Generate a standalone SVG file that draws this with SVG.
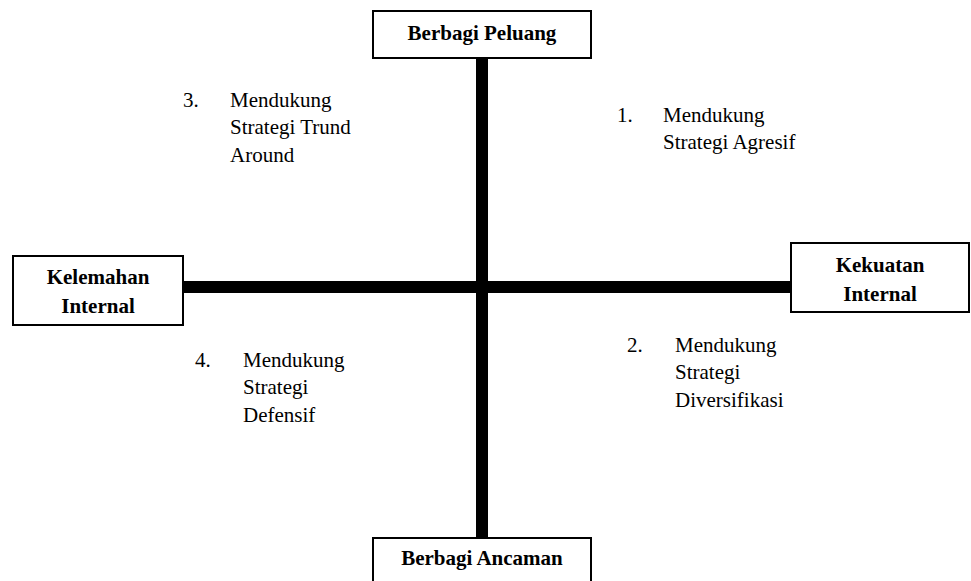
<svg xmlns="http://www.w3.org/2000/svg" width="971" height="581" viewBox="0 0 971 581">
<style>
.box{fill:#fff;stroke:#000;stroke-width:2}
.bar{fill:#000}
.lb{font-weight:bold;font-size:21px;text-anchor:middle;fill:#000}
.q{font-size:21px;fill:#000}
</style>
<rect width="971" height="581" fill="#fff"/>
<g id="connectors">
<rect class="bar" x="476" y="58" width="12" height="480"/>
<rect class="bar" x="183" y="281" width="608" height="12"/>
</g>
<g font-family="Liberation Serif, Times New Roman, serif">
<g id="top">
<rect class="box" x="373" y="11" width="218" height="47"/>
<text class="lb" x="482" y="40">Berbagi Peluang</text>
</g>
<g id="left">
<rect class="box" x="13" y="256" width="170" height="69"/>
<text class="lb" x="98" y="284">Kelemahan</text>
<text class="lb" x="98" y="313">Internal</text>
</g>
<g id="right">
<rect class="box" x="791" y="243" width="178" height="69"/>
<text class="lb" x="880" y="272">Kekuatan</text>
<text class="lb" x="880" y="301">Internal</text>
</g>
<g id="bottom">
<rect class="box" x="373" y="538" width="218" height="50"/>
<text class="lb" x="482" y="565">Berbagi Ancaman</text>
</g>
<g id="q3">
<text class="q" x="183" y="107">3.</text>
<text class="q" x="230" y="107">Mendukung</text>
<text class="q" x="230" y="134">Strategi Trund</text>
<text class="q" x="230" y="162">Around</text>
</g>
<g id="q1">
<text class="q" x="617" y="122">1.</text>
<text class="q" x="663" y="122">Mendukung</text>
<text class="q" x="663" y="149">Strategi Agresif</text>
</g>
<g id="q4">
<text class="q" x="195" y="367">4.</text>
<text class="q" x="243" y="367">Mendukung</text>
<text class="q" x="243" y="394">Strategi</text>
<text class="q" x="243" y="422">Defensif</text>
</g>
<g id="q2">
<text class="q" x="627" y="352">2.</text>
<text class="q" x="675" y="352">Mendukung</text>
<text class="q" x="675" y="379">Strategi</text>
<text class="q" x="675" y="407">Diversifikasi</text>
</g>
</g>
</svg>
